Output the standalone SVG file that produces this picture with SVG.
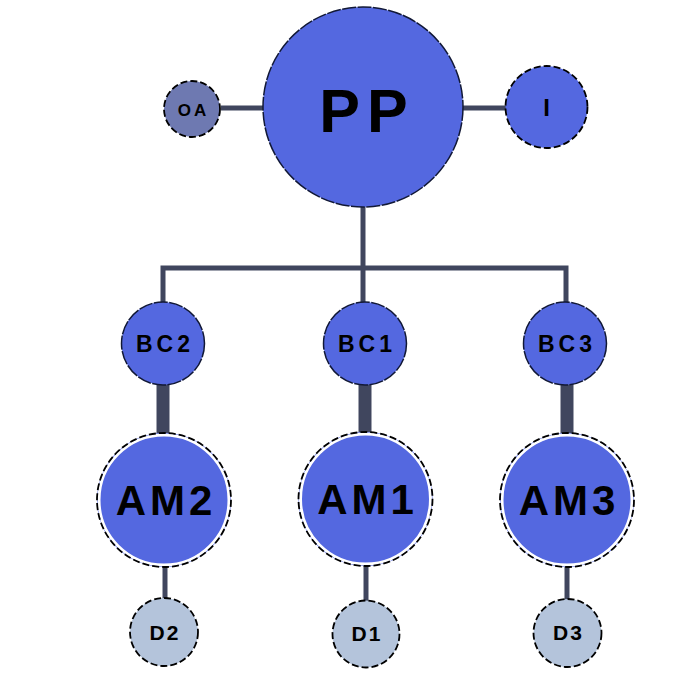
<svg xmlns="http://www.w3.org/2000/svg" width="693" height="677" viewBox="0 0 693 677">
<style>
.lnk{stroke:#40465e;stroke-width:5;fill:none}
.thick{stroke:#40465e;stroke-width:13;fill:none}
.blue{fill:#5468e0}
.edge{fill:none;stroke:#111836;stroke-width:1.5;stroke-dasharray:14 1.5}
.dash{fill:none;stroke:#000;stroke-width:1.8;stroke-dasharray:7 3}
.ring{fill:none;stroke:#fff;stroke-width:3}
.t{font-family:"Liberation Sans",Arial,sans-serif;font-weight:bold;fill:#000;text-anchor:middle}
</style>
<rect width="693" height="677" fill="#fff"/>
<g id="connectors">
<line class="lnk" x1="221" y1="108" x2="264" y2="108"/>
<line class="lnk" x1="462" y1="108" x2="506" y2="108"/>
<polyline class="lnk" points="163,303 163,268 566,268 566,303"/>
<line class="lnk" x1="363" y1="206" x2="363" y2="303"/>
<line class="thick" x1="163" y1="384" x2="163" y2="434"/>
<line class="thick" x1="365" y1="384" x2="365" y2="434"/>
<line class="thick" x1="567" y1="384" x2="567" y2="434"/>
<line class="lnk" x1="165" y1="566" x2="165" y2="600"/>
<line class="lnk" x1="366" y1="566" x2="366" y2="602"/>
<line class="lnk" x1="567" y1="566" x2="567" y2="600"/>
</g>
<g id="PP">
<circle class="blue" cx="363" cy="107" r="100"/>
<circle class="edge" cx="363" cy="107" r="100"/>
<text class="t" x="367" y="132" font-size="61" letter-spacing="7">PP</text>
</g>
<g id="OA">
<circle cx="192" cy="109" r="28" fill="#6e79b1"/>
<circle class="dash" cx="192" cy="109" r="28"/>
<text class="t" x="193.5" y="115.5" font-size="17" letter-spacing="3">OA</text>
</g>
<g id="I">
<circle class="blue" cx="546.5" cy="107" r="41"/>
<circle class="dash" cx="546.5" cy="107" r="41"/>
<text class="t" x="546.5" y="116" font-size="24">I</text>
</g>
<g id="BC2">
<circle class="blue" cx="163" cy="343.5" r="41.5"/>
<circle class="edge" cx="163" cy="343.5" r="41.5"/>
<text class="t" x="165" y="352" font-size="23" letter-spacing="4">BC2</text>
</g>
<g id="BC1">
<circle class="blue" cx="365" cy="343.5" r="41.5"/>
<circle class="edge" cx="365" cy="343.5" r="41.5"/>
<text class="t" x="367" y="352" font-size="23" letter-spacing="4">BC1</text>
</g>
<g id="BC3">
<circle class="blue" cx="565" cy="343.5" r="41.5"/>
<circle class="edge" cx="565" cy="343.5" r="41.5"/>
<text class="t" x="567" y="352" font-size="23" letter-spacing="4">BC3</text>
</g>
<g id="AM2">
<circle class="blue" cx="164" cy="500" r="67"/>
<circle class="ring" cx="164" cy="500" r="65"/>
<circle class="dash" cx="164" cy="500" r="67"/>
<text class="t" x="166" y="515" font-size="42" letter-spacing="4">AM2</text>
</g>
<g id="AM1">
<circle class="blue" cx="365.5" cy="499" r="67"/>
<circle class="ring" cx="365.5" cy="499" r="65"/>
<circle class="dash" cx="365.5" cy="499" r="67"/>
<text class="t" x="367.5" y="514" font-size="42" letter-spacing="4">AM1</text>
</g>
<g id="AM3">
<circle class="blue" cx="567" cy="500" r="67"/>
<circle class="ring" cx="567" cy="500" r="65"/>
<circle class="dash" cx="567" cy="500" r="67"/>
<text class="t" x="569" y="515" font-size="42" letter-spacing="4">AM3</text>
</g>
<g id="D2">
<circle cx="164" cy="632" r="34" fill="#b4c4db"/>
<circle class="dash" cx="164" cy="632" r="34"/>
<text class="t" x="165" y="640" font-size="21" letter-spacing="2">D2</text>
</g>
<g id="D1">
<circle cx="366" cy="634" r="33.5" fill="#b4c4db"/>
<circle class="dash" cx="366" cy="634" r="33.5"/>
<text class="t" x="367" y="641" font-size="21" letter-spacing="2">D1</text>
</g>
<g id="D3">
<circle cx="567.5" cy="633" r="34" fill="#b4c4db"/>
<circle class="dash" cx="567.5" cy="633" r="34"/>
<text class="t" x="568.5" y="640" font-size="21" letter-spacing="2">D3</text>
</g>
</svg>
